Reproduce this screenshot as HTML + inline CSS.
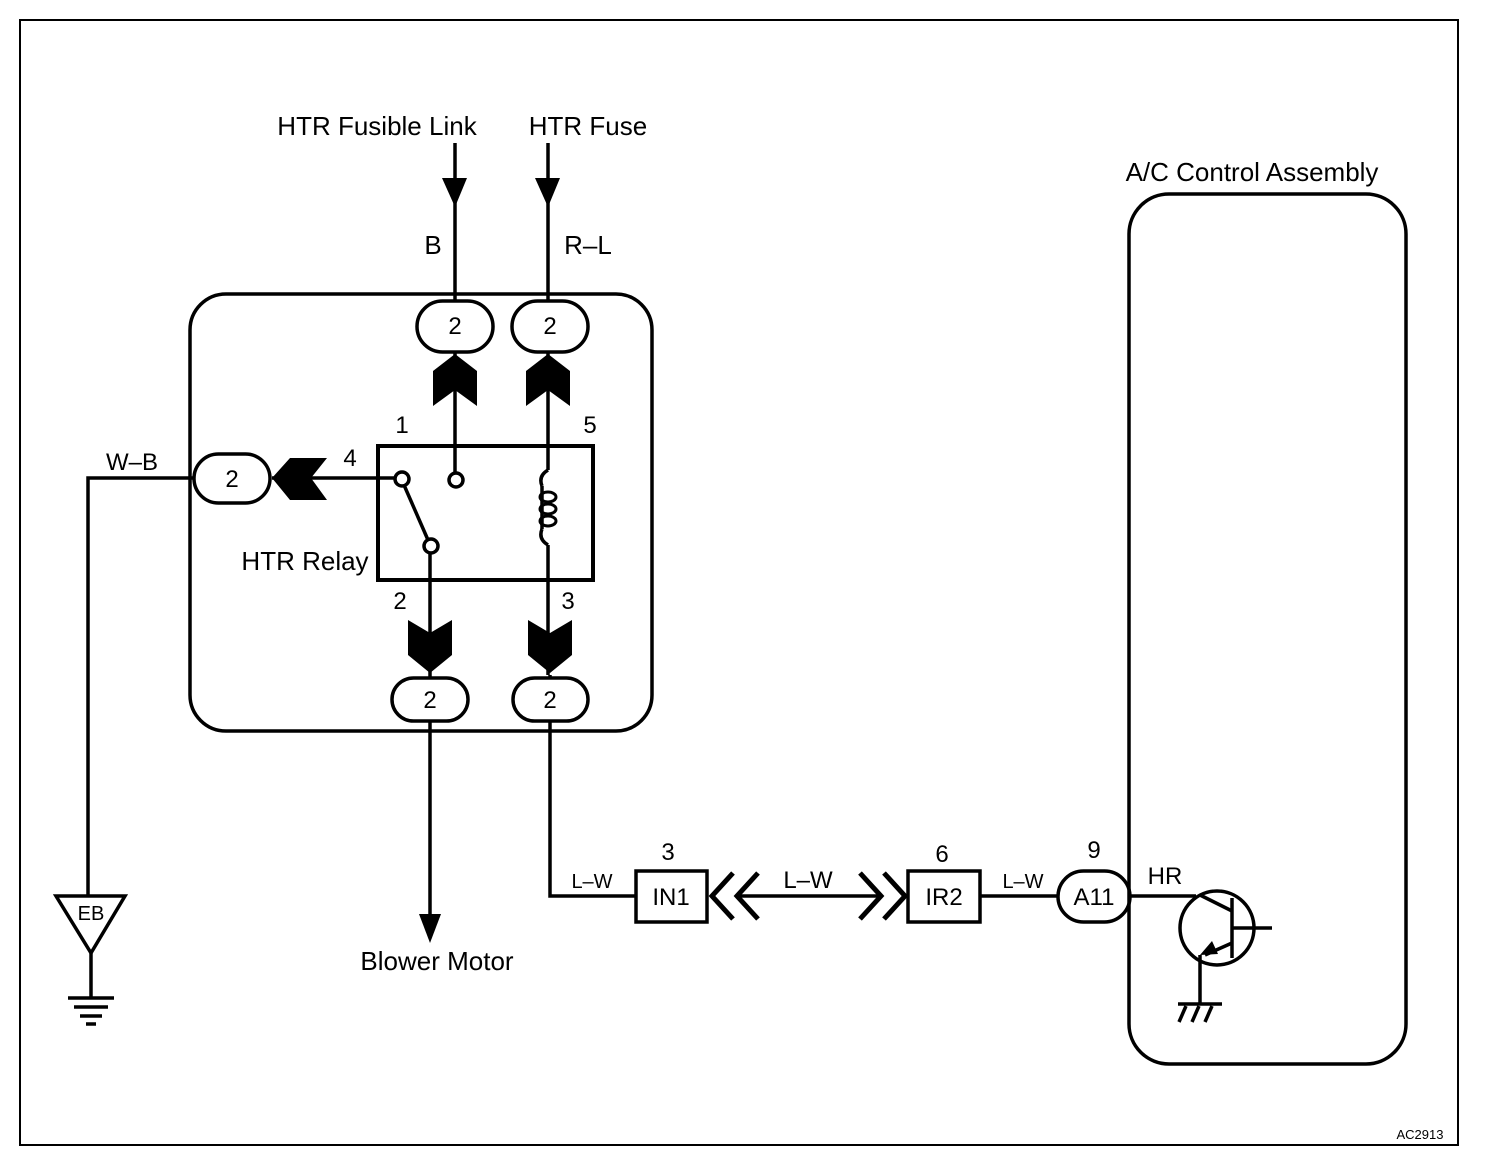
<!DOCTYPE html>
<html><head><meta charset="utf-8"><style>
html,body{margin:0;padding:0;background:#fff}
svg{display:block}
text{font-family:"Liberation Sans",Arial,sans-serif;fill:#000}
</style></head><body>
<svg width="1504" height="1170" viewBox="0 0 1504 1170" xmlns="http://www.w3.org/2000/svg">
<rect x="20" y="20" width="1438" height="1125" fill="none" stroke="#000" stroke-width="2"/>
<g stroke="#000" stroke-width="3.5" fill="none">
<!-- relay outer box -->
<rect x="190" y="294" width="462" height="437" rx="36"/>
<!-- A/C control -->
<rect x="1129" y="194" width="277" height="870" rx="40"/>
<!-- top wires -->
<line x1="455" y1="143" x2="455" y2="300"/>
<line x1="548" y1="143" x2="548" y2="300"/>
<!-- relay inner -->
<rect x="378" y="446" width="215" height="134" stroke-width="4"/>
<line x1="455" y1="352" x2="455" y2="473"/>
<line x1="548" y1="352" x2="548" y2="470"/>
<line x1="548" y1="545" x2="548" y2="675"/>
<line x1="430" y1="553" x2="430" y2="678"/>
<line x1="550" y1="675" x2="550" y2="678"/>
<line x1="272" y1="478" x2="395" y2="478"/>
<line x1="404" y1="485" x2="428" y2="540"/>
<path d="M548 470 q-10 6 -6 16 M548 545 q-10 -6 -6 -16" />
<line x1="542" y1="486" x2="542" y2="529"/>
<!-- W-B -->
<polyline points="193,478 88,478 88,895"/>
<polygon points="56,896 125,896 91,953"/>
<line x1="91" y1="953" x2="91" y2="998"/>
<line x1="68" y1="998" x2="114" y2="998"/>
<line x1="74" y1="1007" x2="108" y2="1007"/>
<line x1="80" y1="1016" x2="102" y2="1016"/>
<line x1="86" y1="1024" x2="96" y2="1024"/>
<!-- blower -->
<line x1="430" y1="720" x2="430" y2="918"/>
<!-- L-W path -->
<polyline points="550,720 550,896 636,896"/>
<rect x="636" y="871" width="71" height="51"/>
<rect x="908" y="871" width="72" height="51"/>
<line x1="980" y1="896" x2="1058" y2="896"/>
<line x1="740" y1="896" x2="878" y2="896"/>
<polyline points="733,873 712,896 733,919" stroke-width="5"/>
<polyline points="758,873 737,896 758,919" stroke-width="5"/>
<polyline points="860,873 881,896 860,919" stroke-width="5"/>
<polyline points="884,873 905,896 884,919" stroke-width="5"/>
<!-- connectors -->
<rect x="417" y="301" width="76" height="51" rx="25.5"/>
<rect x="512" y="301" width="76" height="51" rx="25.5"/>
<rect x="194" y="454" width="76" height="49" rx="24.5"/>
<rect x="392" y="678" width="76" height="43" rx="21.5"/>
<rect x="513" y="678" width="75" height="43" rx="21.5"/>
<rect x="1058" y="871" width="72" height="51" rx="25.5"/>
<!-- transistor -->
<line x1="1130" y1="896" x2="1196" y2="896"/>
<circle cx="1217" cy="928" r="37"/>
<line x1="1232" y1="898" x2="1232" y2="958"/>
<line x1="1232" y1="928" x2="1272" y2="928"/>
<line x1="1200" y1="895" x2="1232" y2="911"/>
<line x1="1232" y1="943" x2="1205" y2="955"/>
<line x1="1200" y1="955" x2="1200" y2="1004"/>
<line x1="1178" y1="1004" x2="1222" y2="1004"/>
<line x1="1186" y1="1006" x2="1179" y2="1022"/>
<line x1="1199" y1="1006" x2="1192" y2="1022"/>
<line x1="1212" y1="1006" x2="1205" y2="1022"/>
</g>
<!-- contacts -->
<g stroke="#000" stroke-width="3.5" fill="#fff">
<circle cx="402" cy="479" r="7"/>
<circle cx="456" cy="480" r="7"/>
<circle cx="431" cy="546" r="7"/>
</g>
<!-- coil loops -->
<g stroke="#000" stroke-width="3" fill="none">
<ellipse cx="548" cy="497" rx="8" ry="5"/>
<ellipse cx="548" cy="509" rx="8" ry="5"/>
<ellipse cx="548" cy="521" rx="8" ry="5"/>
</g>
<!-- filled arrows -->
<g fill="#000">
<polygon points="442,178 467,178 455,207"/>
<polygon points="535,178 560,178 548,207"/>
<polygon points="455,354 477,371 477,406 455,390 433,406 433,371"/>
<polygon points="548,354 570,371 570,406 548,390 526,406 526,371"/>
<polygon points="408,620 430,633 452,620 452,655 430,673 408,655"/>
<polygon points="528,620 550,633 572,620 572,655 550,673 528,655"/>
<polygon points="272,478 290,458 327,458 311,478 327,500 290,500"/>
<polygon points="419,914 441,914 430,943"/>
<polygon points="1200,955 1212,941 1218,954"/>
</g>
<g font-size="26">
<text x="377" y="135" text-anchor="middle">HTR Fusible Link</text>
<text x="588" y="135" text-anchor="middle">HTR Fuse</text>
<text x="433" y="254" text-anchor="middle">B</text>
<text x="588" y="254" text-anchor="middle">R–L</text>
<text x="1252" y="181" text-anchor="middle">A/C Control Assembly</text>
<text x="437" y="970" text-anchor="middle">Blower Motor</text>
<text x="305" y="570" text-anchor="middle">HTR Relay</text>
</g>
<g font-size="24" text-anchor="middle">
<text x="455" y="334">2</text>
<text x="550" y="334">2</text>
<text x="232" y="487">2</text>
<text x="430" y="708">2</text>
<text x="550" y="708">2</text>
<text x="402" y="433">1</text>
<text x="590" y="433">5</text>
<text x="350" y="466">4</text>
<text x="400" y="609">2</text>
<text x="568" y="609">3</text>
<text x="132" y="470">W–B</text>
<text x="808" y="888">L–W</text>
<text x="668" y="860">3</text>
<text x="942" y="862">6</text>
<text x="1094" y="858">9</text>
<text x="1165" y="884">HR</text>
<text x="671" y="905">IN1</text>
<text x="944" y="905">IR2</text>
<text x="1094" y="905">A11</text>
</g>
<g font-size="20" text-anchor="middle">
<text x="592" y="888">L–W</text>
<text x="1023" y="888">L–W</text>
<text x="91" y="920">EB</text>
</g>
<text x="1420" y="1139" font-size="13" text-anchor="middle">AC2913</text>
</svg>
</body></html>
